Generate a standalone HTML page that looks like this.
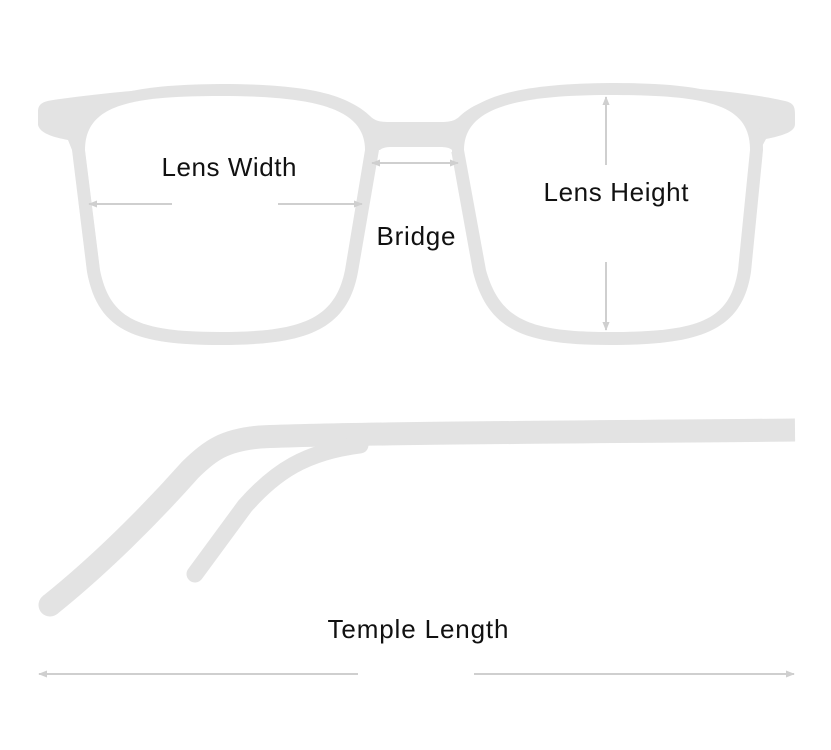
<!DOCTYPE html>
<html><head><meta charset="utf-8"><style>
html,body{margin:0;padding:0;background:#fff;}
svg{display:block;}
text{font-family:"Liberation Sans","DejaVu Sans",sans-serif;font-size:26px;fill:#111;}
</style></head><body>
<svg width="831" height="750" viewBox="0 0 831 750" xmlns="http://www.w3.org/2000/svg">
<defs>
<marker id="ah" viewBox="0 0 10 10" refX="9" refY="5" markerWidth="9" markerHeight="9" orient="auto-start-reverse" markerUnits="userSpaceOnUse">
<path d="M0,1 L10,5 L0,9 Z" fill="#cfcfcf"/></marker>
</defs>
<g fill="#e3e3e3">
<path d="M38,112 C38,102 45,101 60,99 C120,91 180,86 230,86 C310,86 350,96 370,116 C375,121 380,122 390,122 L440,122 C450,122 455,121 460,116 C482,95 530,86 620,86 C700,86 760,95 785,101 C793,103 795,106 795,114 L795,124 C795,131 786,135 766,139 L760,150 L72,150 L68,140 C52,137 40,133 38,125 Z"/>
<path d="M72,150 C72,96 125,85 220,84 C330,84 379,100 379,150 L358,272 C347,331 305,345 220,345 C135,345 98,331 87,272 Z"/>
<path d="M451,150 C451,100 505,84 610,83 C715,83 763,96 763,150 L751,272 C742,331 700,345 610,345 C525,345 488,331 473,272 Z"/>
</g>
<g fill="#fff">
<path d="M85,150 C85,105 130,96 220,96 C320,96 365,110 365,150 L345,270 C335,320 300,332 220,332 C140,332 110,320 100,270 Z"/>
<path d="M464,150 C464,110 510,95 610,95 C710,95 750,105 750,150 L738,270 C730,320 700,332 610,332 C530,332 500,320 486,270 Z"/>
<path d="M380,150 C382,148 386,147 392,147 L440,147 C446,147 450,148 452,150 L452,152 L380,152 Z"/>
</g>
<g fill="none" stroke="#e3e3e3">
<path d="M795,430 C600,432 350,433 260,437 C225,440 210,450 190,470 C150,515 100,565 50,605" stroke-width="23" stroke-linecap="butt"/>
<path d="M360,445 C305,452 275,472 245,506 L195,574" stroke-width="17" stroke-linecap="round"/>
</g>
<circle cx="50" cy="605" r="11.5" fill="#e3e3e3"/>
<g stroke="#cfcfcf" stroke-width="2" fill="none">
<line x1="172" y1="204" x2="89" y2="204" marker-end="url(#ah)"/>
<line x1="278" y1="204" x2="362" y2="204" marker-end="url(#ah)"/>
<line x1="372" y1="163" x2="458" y2="163" marker-start="url(#ah)" marker-end="url(#ah)"/>
<line x1="606" y1="165" x2="606" y2="97" marker-end="url(#ah)"/>
<line x1="606" y1="262" x2="606" y2="330" marker-end="url(#ah)"/>
<line x1="358" y1="674" x2="39" y2="674" marker-end="url(#ah)"/>
<line x1="474" y1="674" x2="794" y2="674" marker-end="url(#ah)"/>
</g>
<text x="229" y="176" text-anchor="middle" textLength="135">Lens Width</text>
<text x="416" y="245" text-anchor="middle" textLength="79">Bridge</text>
<text x="616" y="201" text-anchor="middle" textLength="145">Lens Height</text>
<text x="418" y="638" text-anchor="middle" textLength="181">Temple Length</text>
</svg>
</body></html>
